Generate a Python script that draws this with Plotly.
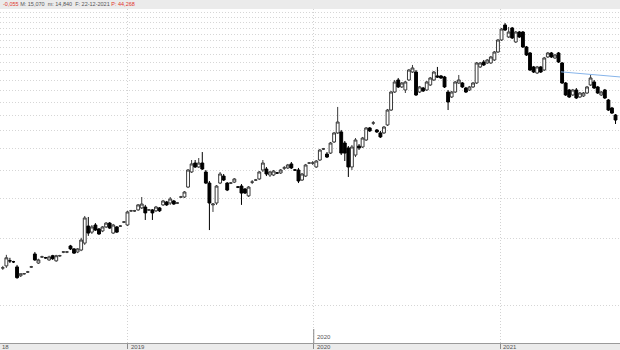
import math
import pandas as pd
import plotly.graph_objects as go

# ---------------- data (weekly candles) ----------------
start_week = "2018-04-30"
n_weeks = 173
weeks = pd.date_range(start_week, periods=n_weeks, freq="7D")

open_ = [2.95, 3.01, 3.17, 3.14, 2.98, 2.72, 2.78, 2.83, 2.98, 3.40,
         3.10, 3.30, 3.27, 3.20, 3.34, 3.17, 3.34, 3.47, 3.47, 3.69,
         3.58, 3.47, 3.54, 3.80, 4.52, 4.25, 4.57, 4.39, 4.30, 4.48,
         4.66, 4.21, 4.48, 4.52, 4.71, 4.57, 5.28, 5.28, 5.33, 5.44,
         5.49, 5.33, 5.33, 5.28, 5.44, 5.61, 5.78, 5.72, 5.84, 5.72,
         6.08, 6.08, 6.73, 7.85, 8.60, 8.26, 8.60, 7.85, 7.01, 5.61,
         5.72, 7.01, 7.53, 7.01, 7.01, 7.08, 6.73, 6.80, 6.60, 6.15,
         7.08, 7.23, 7.31, 8.01, 8.09, 7.61, 7.61, 7.77, 7.77, 8.18,
         8.18, 8.52, 8.01, 8.01, 7.23, 7.53, 8.60, 8.60, 8.26, 8.87,
         9.93, 9.43, 9.52, 10.66, 11.69, 11.81, 10.55, 10.03, 8.26, 9.33,
         10.23, 10.13, 10.88, 12.30, 12.94, 12.05, 11.69, 11.69, 12.68, 14.77,
         17.75, 20.07, 18.69, 18.12, 20.07, 21.77, 21.77, 17.75, 18.49, 18.12,
         19.07, 20.07, 20.91, 20.91, 20.69, 17.75, 16.87, 17.75, 19.46, 19.46,
         18.49, 18.12, 18.69, 19.46, 22.92, 24.11, 23.87, 23.87, 24.61, 26.70,
         30.18, 35.17, 31.12, 34.11, 29.57, 32.74, 32.74, 28.10, 26.43, 22.92,
         21.55, 22.92, 22.22, 25.38, 26.43, 25.12, 26.43, 23.87, 19.46, 18.12,
         17.22, 18.12, 16.87, 17.05, 17.57, 19.07, 19.66, 18.69, 17.22, 18.12,
         16.36, 15.08, 14.04]

high = [3.01, 3.37, 3.27, 3.17, 3.04, 2.78, 2.80, 2.86, 3.01, 3.47,
        3.24, 3.34, 3.30, 3.34, 3.37, 3.37, 3.37, 3.50, 3.50, 3.73,
        3.61, 3.61, 4.01, 5.01, 4.96, 4.57, 4.66, 4.43, 4.52, 4.71,
        4.71, 4.62, 4.52, 4.57, 4.76, 5.28, 5.33, 5.33, 5.66, 6.08,
        5.61, 5.38, 5.38, 5.55, 5.49, 5.90, 5.84, 6.08, 5.90, 5.78,
        6.15, 6.46, 8.09, 8.87, 8.87, 9.05, 9.62, 8.01, 7.16, 5.72,
        6.87, 7.85, 7.69, 7.08, 7.08, 7.38, 6.80, 6.94, 6.66, 6.80,
        7.23, 7.31, 7.93, 8.87, 8.26, 7.93, 8.01, 7.85, 8.09, 8.34,
        8.52, 8.69, 8.09, 8.18, 7.77, 8.52, 8.69, 8.78, 8.87, 9.93,
        10.03, 9.62, 10.66, 11.81, 15.24, 12.05, 10.77, 10.23, 10.34, 11.10,
        10.44, 11.22, 12.42, 12.42, 13.20, 12.17, 11.93, 12.55, 14.93, 17.94,
        20.07, 20.48, 19.66, 19.87, 22.45, 23.39, 22.22, 18.88, 18.69, 19.87,
        20.69, 22.00, 22.92, 21.12, 20.91, 18.12, 17.94, 19.87, 21.12, 19.66,
        18.69, 18.88, 19.66, 24.11, 24.11, 24.61, 24.86, 25.64, 26.97, 30.49,
        34.11, 35.89, 34.46, 34.46, 33.08, 33.08, 33.08, 28.39, 26.70, 23.15,
        23.15, 23.15, 25.38, 26.70, 26.70, 26.16, 26.70, 24.11, 19.66, 18.31,
        18.31, 18.49, 17.75, 17.75, 18.88, 21.12, 20.07, 18.88, 17.94, 18.31,
        16.53, 15.24, 14.18]

low = [2.89, 2.95, 3.10, 3.10, 2.64, 2.69, 2.75, 2.80, 2.95, 3.17,
       3.07, 3.27, 3.24, 3.17, 3.20, 3.14, 3.30, 3.43, 3.43, 3.54,
       3.40, 3.43, 3.50, 3.73, 4.09, 4.17, 4.30, 4.13, 4.25, 4.43,
       4.39, 4.17, 4.21, 4.48, 4.66, 4.52, 5.22, 5.22, 5.28, 5.38,
       4.81, 5.28, 4.81, 5.22, 5.22, 5.55, 5.55, 5.61, 5.61, 5.66,
       6.02, 6.02, 6.66, 7.77, 8.18, 8.18, 8.01, 6.94, 4.34, 5.22,
       5.61, 6.94, 7.16, 6.46, 6.94, 7.01, 6.66, 5.61, 6.27, 6.08,
       6.94, 7.16, 7.23, 7.85, 7.53, 7.46, 7.53, 7.69, 7.69, 8.01,
       8.09, 8.09, 7.93, 7.01, 7.16, 7.46, 8.52, 8.43, 8.18, 8.78,
       9.82, 9.05, 9.43, 10.55, 11.57, 9.33, 8.78, 7.46, 8.01, 9.14,
       9.82, 10.03, 10.77, 11.81, 12.68, 11.69, 11.10, 11.57, 12.55, 14.62,
       17.57, 18.49, 18.49, 17.57, 19.87, 21.55, 17.05, 17.57, 17.75, 17.94,
       18.88, 19.87, 20.48, 20.28, 18.49, 14.77, 16.70, 17.57, 19.27, 18.49,
       17.57, 17.94, 18.49, 19.27, 22.68, 23.15, 23.63, 23.63, 24.36, 26.43,
       29.87, 33.08, 30.80, 30.49, 29.27, 30.80, 27.81, 25.64, 22.00, 21.55,
       21.33, 21.55, 22.00, 25.12, 25.12, 24.86, 23.87, 19.27, 17.05, 16.70,
       17.05, 16.53, 16.70, 16.87, 17.40, 18.88, 18.31, 17.40, 17.05, 16.53,
       14.62, 14.18, 12.81]

close = [2.95, 3.27, 3.17, 3.14, 2.67, 2.78, 2.78, 2.83, 2.98, 3.20,
         3.20, 3.30, 3.27, 3.30, 3.24, 3.34, 3.34, 3.47, 3.47, 3.58,
         3.43, 3.58, 3.92, 4.91, 4.21, 4.48, 4.34, 4.17, 4.48, 4.66,
         4.43, 4.57, 4.25, 4.52, 4.71, 5.22, 5.28, 5.28, 5.61, 5.66,
         5.17, 5.33, 5.17, 5.49, 5.28, 5.84, 5.61, 5.96, 5.66, 5.72,
         6.08, 6.40, 8.01, 8.52, 8.26, 8.60, 8.09, 7.01, 5.72, 5.66,
         6.80, 7.69, 7.23, 6.53, 7.01, 7.31, 6.73, 6.33, 6.33, 6.73,
         7.08, 7.23, 7.85, 8.60, 7.69, 7.85, 7.93, 7.77, 8.01, 8.18,
         8.43, 8.18, 8.01, 7.16, 7.69, 8.43, 8.60, 8.60, 8.78, 9.82,
         9.93, 9.14, 10.55, 11.69, 13.07, 9.52, 9.52, 8.26, 10.13, 10.88,
         10.03, 11.10, 12.30, 11.93, 12.94, 11.81, 11.22, 12.42, 14.77, 17.75,
         19.66, 18.69, 19.46, 19.66, 22.22, 22.68, 17.22, 18.69, 17.94, 19.66,
         20.48, 21.77, 20.69, 20.48, 18.69, 16.03, 17.75, 19.66, 20.07, 18.69,
         17.75, 18.69, 19.46, 23.87, 23.87, 23.39, 24.61, 25.38, 26.70, 30.18,
         33.76, 33.42, 32.74, 30.80, 32.74, 31.12, 28.10, 25.90, 22.22, 21.77,
         22.92, 21.77, 25.12, 26.43, 25.38, 25.90, 24.11, 19.46, 17.22, 16.87,
         18.12, 16.70, 17.57, 17.57, 18.69, 20.48, 18.49, 17.57, 17.75, 16.70,
         14.77, 14.32, 13.34]

trend_x = ["2021-05-01", "2021-08-24 19:00"]
trend_y = [21.8, 20.7]

year_ticks = ["2019-01-01", "2020-01-01", "2021-01-01"]
year_labels = ["2019", "2020", "2021"]
first_label = "18"          # the 2018 label, only its tail is visible at the left edge

hdr_change = "-0,055"
hdr_mid = "M: 15,070  m: 14,840  F: 22-12-2021"
hdr_price = "P: 44,268"

# ---------------- layout constants ----------------
W, H = 620, 350
TOP, BOT = 9, 7
plot_h = H - TOP - BOT
x_range = ["2018-04-24 12:00", "2021-08-24 19:00"]
y_range = [math.log10(1.371), math.log10(41.4)]

def py(pix):
    """pixel row -> paper y"""
    return (H - BOT - pix) / plot_h

fig = go.Figure()
fig.add_trace(go.Candlestick(
    x=weeks, open=open_, high=high, low=low, close=close,
    increasing=dict(line=dict(color="#3a3a3a", width=1), fillcolor="#ffffff"),
    decreasing=dict(line=dict(color="#000000", width=1), fillcolor="#000000"),
    whiskerwidth=0, hoverinfo="skip", showlegend=False,
))
fig.add_trace(go.Scatter(
    x=trend_x, y=trend_y, mode="lines",
    line=dict(color="#86b4ea", width=1), hoverinfo="skip", showlegend=False,
))

ann = []
font_small = dict(family="Liberation Sans, Arial, sans-serif", size=6, color="#555555")
for d, lab in zip(year_ticks, year_labels):
    ann.append(dict(x=d, xref="x", y=py(347), yref="paper", text=lab,
                    showarrow=False, xanchor="left", yanchor="middle",
                    xshift=1, font=font_small))
ann.append(dict(x=0, xref="paper", y=py(347), yref="paper", text=first_label,
                showarrow=False, xanchor="left", yanchor="middle",
                xshift=0, font=font_small))
ann.append(dict(x=year_ticks[1], xref="x", y=py(337), yref="paper", text=year_labels[1],
                showarrow=False, xanchor="left", yanchor="middle",
                xshift=1, font=font_small))
ann.append(dict(
    x=0, xref="paper", y=1, yref="paper", yshift=TOP / 2 + 0.5,
    xanchor="left", yanchor="middle", showarrow=False, xshift=1,
    text=(f'<span style="color:#e0352b">{hdr_change}</span> '
          f'<span style="color:#555555">{hdr_mid}</span> '
          f'<span style="color:#e0352b">{hdr_price}</span>'),
    font=dict(family="Liberation Sans, Arial, sans-serif", size=5.5, color="#555555"),
))

shapes = [dict(type="line", xref="x", yref="paper",
               x0=year_ticks[1], x1=year_ticks[1], y0=0, y1=py(329),
               line=dict(color="#8a8a8a", width=1))]

fig.update_layout(
    width=W, height=H,
    margin=dict(l=0, r=0, t=TOP, b=BOT, pad=0),
    paper_bgcolor="#ebebeb", plot_bgcolor="#ffffff",
    boxgap=0.2, boxgroupgap=0,
    annotations=ann, shapes=shapes,
    xaxis=dict(
        type="date", range=x_range, rangeslider=dict(visible=False),
        showgrid=True, gridcolor="#d2d2d2", griddash="1px,2px", gridwidth=1,
        tick0="2019-01-01", dtick="M12", showticklabels=False,
        ticks="outside", ticklen=5, tickcolor="#8a8a8a", tickwidth=1,
        showline=True, linecolor="#9a9a9a", linewidth=1, zeroline=False,
        fixedrange=True,
    ),
    yaxis=dict(
        type="log", range=y_range, tick0=0, dtick="L2",
        showgrid=True, gridcolor="#d6d6d6", griddash="1px,2px", gridwidth=1,
        showticklabels=False, ticks="", showline=False, zeroline=False,
        fixedrange=True,
    ),
    hovermode=False,
)

fig.write_html("out.html", config=dict(displayModeBar=False, staticPlot=True))
